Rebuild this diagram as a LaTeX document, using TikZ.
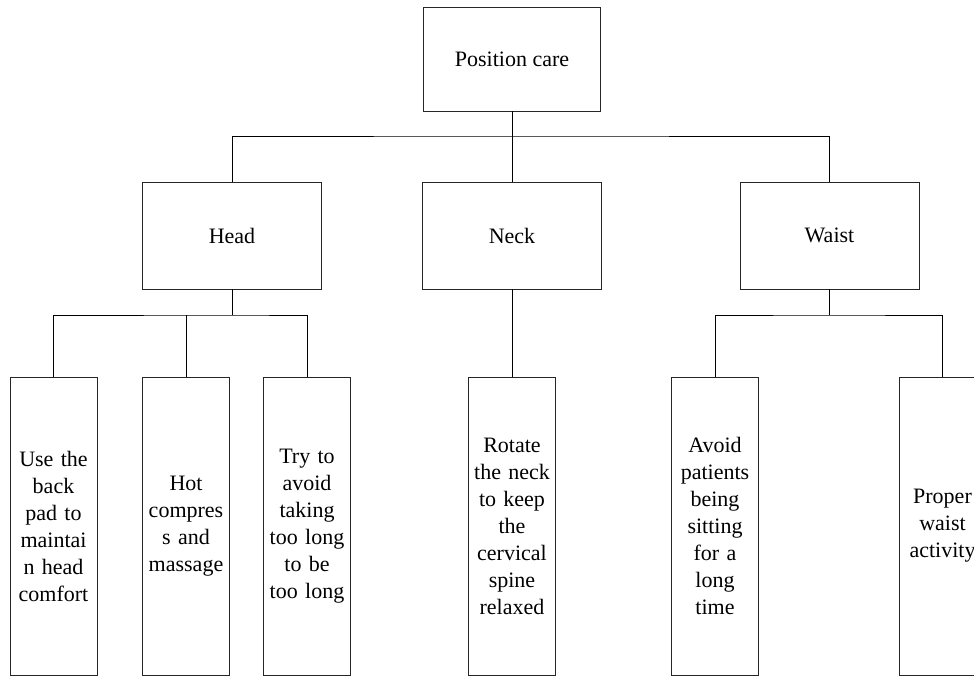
\documentclass[tikz,border=0pt]{standalone}
\usepackage{fontspec}
\setmainfont{Liberation Serif}
\begin{document}
\begin{tikzpicture}[x=1pt,y=-1pt,
  box/.style={draw=black!85,line width=0.8pt,inner sep=0pt,align=center,
    font=\fontsize{22}{27}\selectfont},
  topbox/.style={box,minimum width=177pt,minimum height=104pt},
  midbox/.style={box,minimum width=179pt,minimum height=107pt},
  leafbox/.style={box,minimum width=87pt,minimum height=298pt,text width=87pt},
  conn/.style={draw=black,line width=0.8pt}]
\useasboundingbox (0,0) rectangle (974,677);
\clip (0,0) rectangle (974,677);
\node[topbox] (top) at (512,59) {Position care};
\node[midbox] (head) at (232,235.5) {Head};
\node[midbox] (neck) at (512,235.5) {Neck};
\node[midbox] (waist) at (829.5,235.5) {Waist};
\node[leafbox] (l1) at (53.5,526) {Use the\\back\\pad to\\maintai\\n head\\comfort};
\node[leafbox] (l2) at (186,526) {Hot\\compres\\s and\\massage};
\node[leafbox] (l3) at (307,526) {Try to\\avoid\\taking\\too long\\to be\\too long};
\node[leafbox] (n1) at (512,526) {Rotate\\the neck\\to keep\\the\\cervical\\spine\\relaxed};
\node[leafbox] (w1) at (715,526) {Avoid\\patients\\being\\sitting\\for a\\long\\time};
\node[leafbox] (w2) at (942.5,526) {Proper\\waist\\activity};
\coordinate (j0) at (512,136);
\coordinate (jh) at (232,315);
\coordinate (jw) at (829.5,315);
\draw[conn] (top.south) -- (j0);
\draw[conn] (head.north) |- (j0) -| (waist.north);
\draw[conn] (j0) -- (neck.north);
\draw[conn] (head.south) -- (jh);
\draw[conn] (l1.north) |- (jh) -| (l3.north);
\draw[conn] (l2.north) -- (l2.north |- jh);
\draw[conn] (neck.south) -- (n1.north);
\draw[conn] (waist.south) -- (jw);
\draw[conn] (w1.north) |- (jw) -| (w2.north);
\end{tikzpicture}
\end{document}
